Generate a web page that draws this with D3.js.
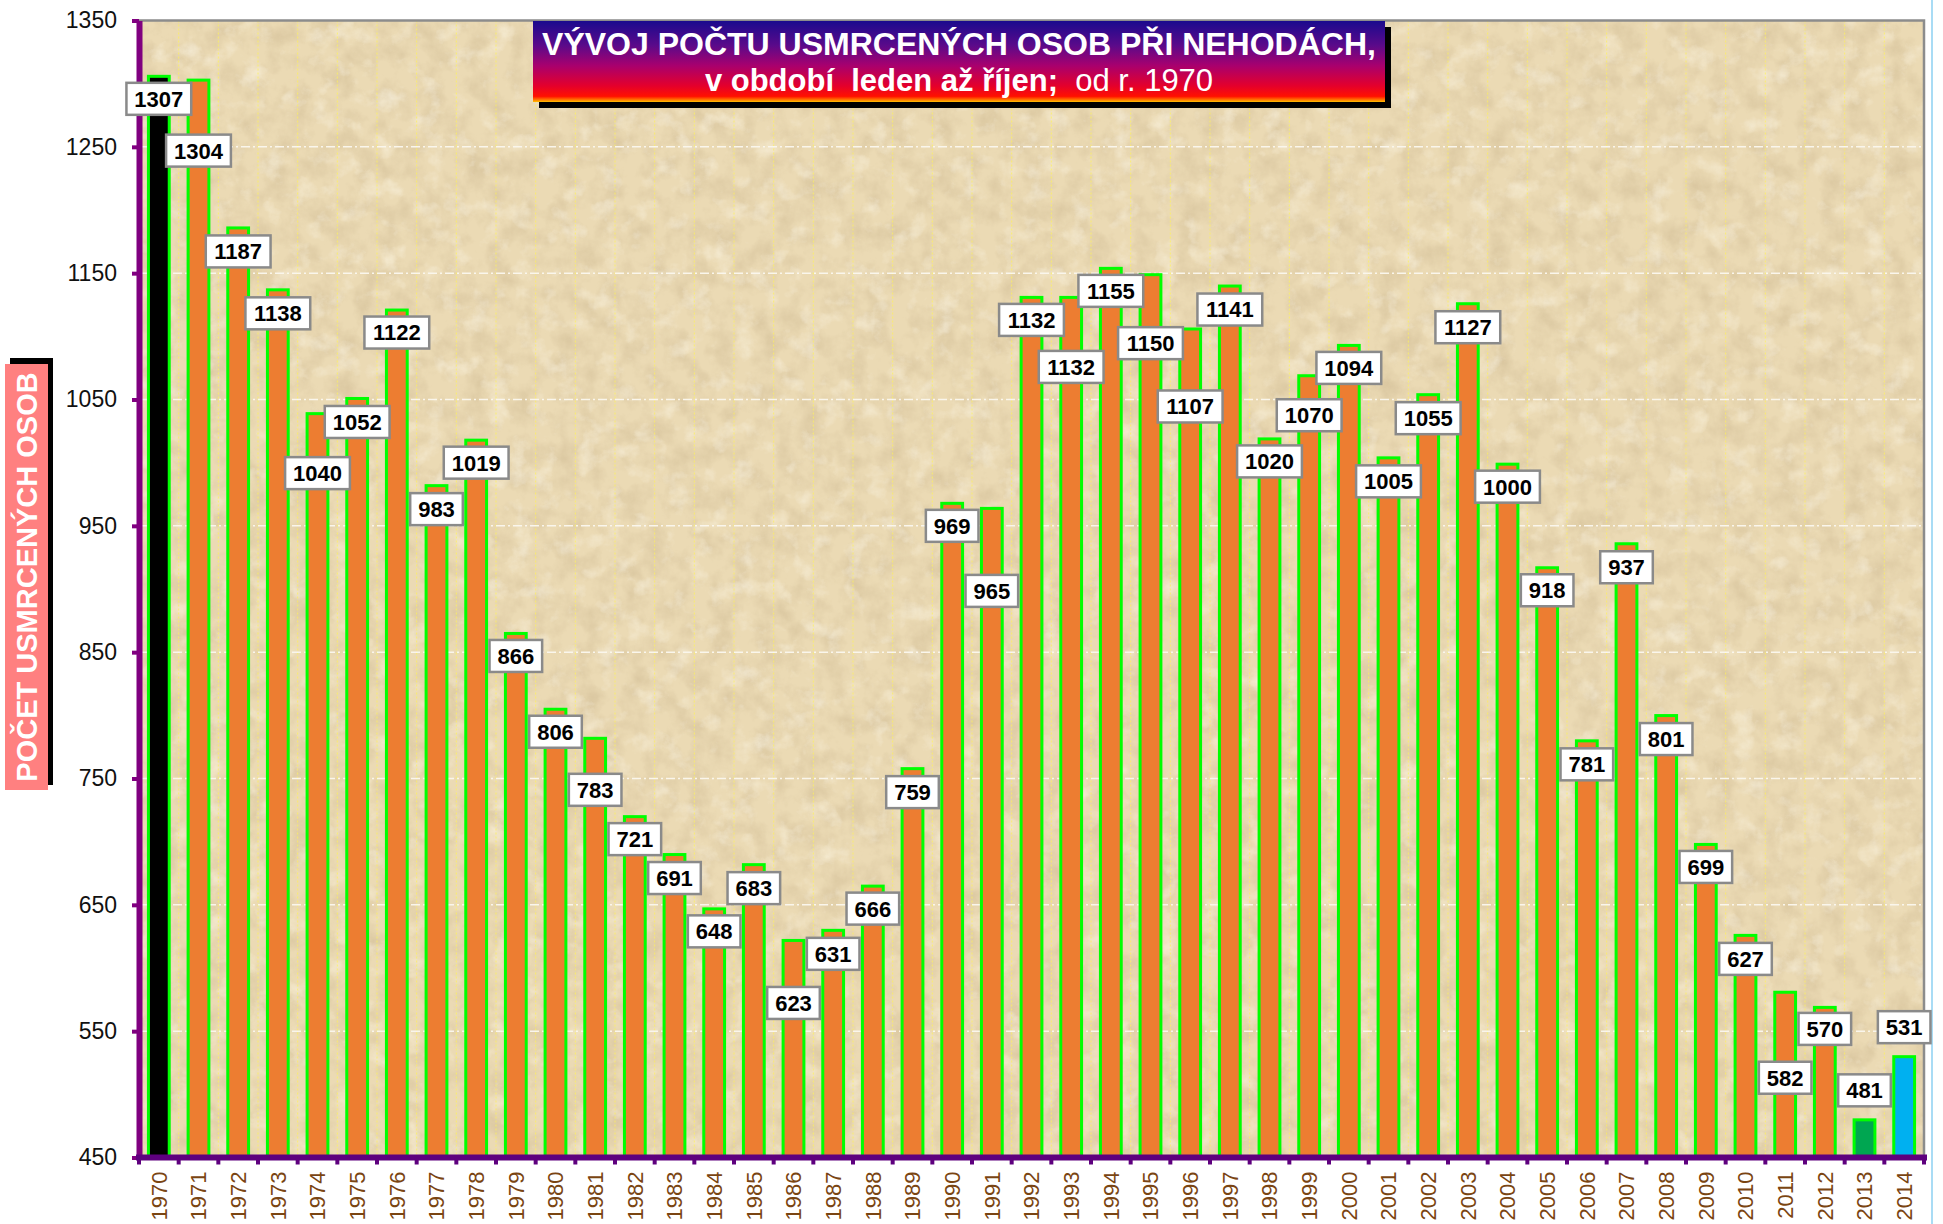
<!DOCTYPE html>
<html>
<head>
<meta charset="utf-8">
<script src="https://cdn.jsdelivr.net/npm/d3@7"></script>
<style>
  html, body { margin: 0; padding: 0; background: #fff; }
  svg { display: block; font-family: "Liberation Sans", Arial, sans-serif; }
</style>
</head>
<body>
<div id="chart"></div>
<script>
// Usmrcené osoby při nehodách, leden až říjen, 1970-2014
const years = d3.range(1970, 2015);
const deaths = [
  1307, 1304, 1187, 1138, 1040, 1052, 1122, 983, 1019, 866,
  806, 783, 721, 691, 648, 683, 623, 631, 666, 759,
  969, 965, 1132, 1132, 1155, 1150, 1107, 1141, 1020, 1070,
  1094, 1005, 1055, 1127, 1000, 918, 781, 937, 801, 699,
  627, 582, 570, 481, 531
];
const yTicks = [450, 550, 650, 750, 850, 950, 1050, 1150, 1250, 1350];

// label box placement below bar top (px)
const labelOffset = [
  24, 72, 25, 25, 61, 25, 24, 25, 24, 24,
  24, 53, 24, 25, 24, 25, 64, 25, 24, 25,
  24, 84, 24, 71, 24, 70, 79, 25, 24, 41,
  24, 25, 25, 25, 24, 24, 25, 25, 25, 24,
  25, 87, 23, -28, -28
];

const width = 1943, height = 1224;
const plot = { left: 139, right: 1924, top: 20.5, bottom: 1157.5 };
const barColor = '#ED7D31';
const specialFill = { 1970: '#000000', 2013: '#00A651', 2014: '#00B0F0' };
const fontFamily = '"Liberation Sans", Arial, sans-serif';

const svg = d3.select('#chart').append('svg')
  .attr('width', width)
  .attr('height', height);

const defs = svg.append('defs');

// parchment texture
const paper = defs.append('filter').attr('id', 'paper')
  .attr('x', 0).attr('y', 0).attr('width', 1).attr('height', 1);
paper.append('feTurbulence')
  .attr('type', 'fractalNoise')
  .attr('baseFrequency', 0.045)
  .attr('numOctaves', 5)
  .attr('seed', 3)
  .attr('result', 'noise');
paper.append('feColorMatrix')
  .attr('in', 'noise')
  .attr('type', 'matrix')
  .attr('values', '0 0 0 0 0.66  0 0 0 0 0.53  0 0 0 0 0.32  1.3 0 0 0 -0.5')
  .attr('result', 'dark');
paper.append('feColorMatrix')
  .attr('in', 'noise')
  .attr('type', 'matrix')
  .attr('values', '0 0 0 0 0.98  0 0 0 0 0.94  0 0 0 0 0.82  0 -1.3 0 0 0.6')
  .attr('result', 'light');
paper.append('feMerge').call(m => {
  m.append('feMergeNode').attr('in', 'dark');
  m.append('feMergeNode').attr('in', 'light');
});

const titleGrad = defs.append('linearGradient').attr('id', 'titleGrad')
  .attr('x1', 0).attr('y1', 0).attr('x2', 0).attr('y2', 1);
[
  [0, '#1A0A8E'], [0.3, '#5A0A8A'], [0.55, '#A8006E'],
  [0.8, '#E4002C'], [0.93, '#FF1000'], [0.97, '#FF7000'], [1, '#FFC000']
].forEach(([o, c]) => titleGrad.append('stop').attr('offset', o).attr('stop-color', c));

// scales
const x = d3.scaleBand()
  .domain(years)
  .range([plot.left, plot.right])
  .paddingInner(0.4)
  .paddingOuter(0.2);

const y = d3.scaleLinear()
  .domain([450, 1350])
  .range([plot.bottom, plot.top]);

// plot background
svg.append('rect')
  .attr('x', plot.left).attr('y', plot.top)
  .attr('width', plot.right - plot.left).attr('height', plot.bottom - plot.top)
  .attr('fill', '#EBDAB4');
svg.append('rect')
  .attr('x', plot.left).attr('y', plot.top)
  .attr('width', plot.right - plot.left).attr('height', plot.bottom - plot.top)
  .attr('fill', '#fff')
  .attr('filter', 'url(#paper)');

// band boundaries
const boundaries = years.map(yr => x(yr) + x.bandwidth() / 2 - x.step() / 2)
  .concat([plot.right]);

// grid
svg.append('g').selectAll('line')
  .data(boundaries.slice(1, -1))
  .join('line')
  .attr('x1', d => d).attr('x2', d => d)
  .attr('y1', plot.top).attr('y2', plot.bottom)
  .attr('stroke', '#FFF35A')
  .attr('stroke-opacity', 0.75)
  .attr('stroke-width', 1)
  .attr('stroke-dasharray', '2,2');

svg.append('g').selectAll('line')
  .data(yTicks.slice(1, -1))
  .join('line')
  .attr('x1', plot.left).attr('x2', plot.right)
  .attr('y1', d => y(d)).attr('y2', d => y(d))
  .attr('stroke', '#FAF6EC')
  .attr('stroke-width', 1.5)
  .attr('stroke-dasharray', '9,3,2,3');

// plot border (top, right)
svg.append('path')
  .attr('d', `M${plot.left},${plot.top}H${plot.right}V${plot.bottom}`)
  .attr('fill', 'none')
  .attr('stroke', '#8C8C8C')
  .attr('stroke-width', 2.5);

// light frame line at far right
svg.append('line')
  .attr('x1', 1932).attr('x2', 1932)
  .attr('y1', 0).attr('y2', height)
  .attr('stroke', '#A9DCF5')
  .attr('stroke-width', 2);

// bars
svg.append('g').selectAll('rect')
  .data(years.map((yr, i) => ({ yr, v: deaths[i] })))
  .join('rect')
  .attr('x', d => x(d.yr) + 1.5)
  .attr('width', x.bandwidth() - 3)
  .attr('y', d => y(d.v) + 1.5)
  .attr('height', d => plot.bottom - y(d.v) - 1.5)
  .attr('fill', d => specialFill[d.yr] || barColor)
  .attr('stroke', '#00FF00')
  .attr('stroke-width', 3);

// y axis
const yAxis = svg.append('g')
  .attr('transform', `translate(${plot.left},0)`)
  .call(d3.axisLeft(y)
    .tickValues(yTicks)
    .tickFormat(d3.format('d'))
    .tickSize(7).tickSizeOuter(0).tickPadding(15));
yAxis.select('.domain').attr('stroke', '#800080').attr('stroke-width', 6);
yAxis.selectAll('.tick line').attr('stroke', '#800080').attr('stroke-width', 4);
yAxis.selectAll('.tick text')
  .attr('fill', '#111')
  .style('font-size', '23px')
  .style('font-family', fontFamily);

// x axis
const xAxis = svg.append('g')
  .attr('transform', `translate(0,${plot.bottom})`)
  .call(d3.axisBottom(x).tickSize(0).tickSizeOuter(0).tickPadding(0));
xAxis.select('.domain').remove();
xAxis.append('line')
  .attr('x1', plot.left - 3).attr('x2', plot.right + 3)
  .attr('y1', 0).attr('y2', 0)
  .attr('stroke', '#5E007E')
  .attr('stroke-width', 6);
xAxis.selectAll('.bound')
  .data(boundaries)
  .join('line')
  .attr('class', 'bound')
  .attr('x1', d => d).attr('x2', d => d)
  .attr('y1', 0).attr('y2', 7)
  .attr('stroke', '#5E007E')
  .attr('stroke-width', 4);
xAxis.selectAll('.tick text')
  .attr('transform', 'translate(0,14) rotate(-90)')
  .attr('text-anchor', 'end')
  .attr('x', 0).attr('y', 0)
  .attr('dy', '0.36em')
  .attr('fill', '#7A4512')
  .style('font-size', '22px')
  .style('font-family', fontFamily);

// value labels
const labels = svg.append('g').selectAll('g')
  .data(years.map((yr, i) => ({ yr, v: deaths[i], dy: labelOffset[i] })))
  .join('g')
  .attr('transform', d => `translate(${x(d.yr) + x.bandwidth() / 2},${y(d.v) + d.dy})`);

labels.append('rect')
  .attr('x', d => -(String(d.v).length * 12.2 + 16) / 2)
  .attr('width', d => String(d.v).length * 12.2 + 16)
  .attr('y', -16)
  .attr('height', 32)
  .attr('fill', '#fff')
  .attr('stroke', '#8A8A8A')
  .attr('stroke-width', 2.5);

labels.append('text')
  .attr('text-anchor', 'middle')
  .attr('dy', '0.36em')
  .style('font-size', '22px')
  .style('font-weight', 'bold')
  .attr('fill', '#000')
  .text(d => d.v);

// title
const title = svg.append('g');
title.append('rect')
  .attr('x', 539).attr('y', 27).attr('width', 852).attr('height', 81)
  .attr('fill', '#000');
title.append('rect')
  .attr('x', 533).attr('y', 21).attr('width', 852).attr('height', 81)
  .attr('fill', 'url(#titleGrad)');
title.append('text')
  .attr('x', 959).attr('y', 55)
  .attr('text-anchor', 'middle')
  .attr('fill', '#fff')
  .style('font-size', '32px')
  .style('font-weight', 'bold')
  .text('VÝVOJ POČTU USMRCENÝCH OSOB PŘI NEHODÁCH,');
const sub = title.append('text')
  .attr('x', 959).attr('y', 91)
  .attr('text-anchor', 'middle')
  .attr('fill', '#fff')
  .style('font-size', '31px')
  .style('white-space', 'pre');
sub.append('tspan').style('font-weight', 'bold').text('v období  leden až říjen;');
sub.append('tspan').text('  od r. 1970');

// y axis title
const yTitle = svg.append('g');
yTitle.append('rect')
  .attr('x', 10).attr('y', 358).attr('width', 43).attr('height', 427)
  .attr('fill', '#000');
yTitle.append('rect')
  .attr('x', 5).attr('y', 364).attr('width', 43).attr('height', 426)
  .attr('fill', '#FF8080');
yTitle.append('text')
  .attr('transform', 'translate(27,577) rotate(-90)')
  .attr('text-anchor', 'middle')
  .attr('dy', '0.36em')
  .attr('fill', '#fff')
  .style('font-size', '29px')
  .style('font-weight', 'bold')
  .text('POČET USMRCENÝCH OSOB');
</script>
</body>
</html>
